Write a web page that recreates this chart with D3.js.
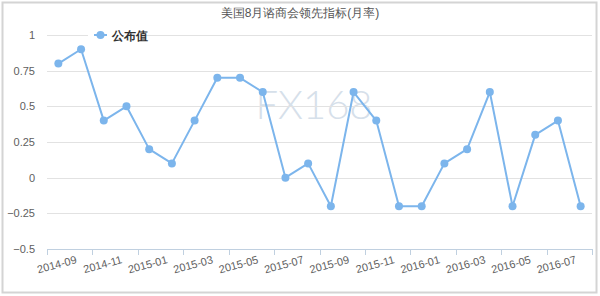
<!DOCTYPE html>
<html>
<head>
<meta charset="utf-8">
<script src="https://cdn.jsdelivr.net/npm/d3@7"></script>
<style>
  body { margin: 0; background: #fff; }
  svg { display: block; font-family: "Liberation Sans", Arial, sans-serif; }
</style>
</head>
<body>
<div id="chart"></div>
<script>
// months shown on the category axis
const months = [
  "2014-09", "2014-10", "2014-11", "2014-12", "2015-01", "2015-02",
  "2015-03", "2015-04", "2015-05", "2015-06", "2015-07", "2015-08",
  "2015-09", "2015-10", "2015-11", "2015-12", "2016-01", "2016-02",
  "2016-03", "2016-04", "2016-05", "2016-06", "2016-07", "2016-08"
];
// 公布值 (monthly rate, %)
const values = [
  0.8, 0.9, 0.4, 0.5, 0.2, 0.1,
  0.4, 0.7, 0.7, 0.6, 0, 0.1,
  -0.2, 0.6, 0.4, -0.2, -0.2, 0.1,
  0.2, 0.6, -0.2, 0.3, 0.4, -0.2
];
const yTicks = [-0.5, -0.25, 0, 0.25, 0.5, 0.75, 1];
const title = "美国8月谘商会领先指标(月率)";
const seriesName = "公布值";

const width = 600, height = 296;
const plotLeft = 47, plotRight = 592, plotTop = 35, plotBottom = 249;
const lineColor = "#7cb5ec";

const svg = d3.select("#chart").append("svg")
  .attr("width", width)
  .attr("height", height);

// outer frame
svg.append("rect")
  .attr("x", 2.5).attr("y", 2.5)
  .attr("width", 594).attr("height", 290)
  .attr("fill", "#fff")
  .attr("stroke", "#d4d4d4")
  .attr("stroke-width", 2);

const x = d3.scaleBand()
  .domain(months)
  .range([plotLeft, plotRight])
  .padding(0);

const y = d3.scaleLinear()
  .domain([-0.5, 1])
  .range([plotBottom, plotTop]);

// watermark
svg.append("text")
  .attr("x", 314).attr("y", 119)
  .attr("text-anchor", "middle")
  .attr("font-family", "Lato, sans-serif")
  .attr("font-weight", 300)
  .attr("font-size", 40)
  .attr("fill", "#d6e0ea")
  .text("FX168");

// grid lines
svg.append("g")
  .selectAll("line")
  .data(yTicks.filter(d => d !== -0.5))
  .enter()
  .append("line")
  .attr("x1", plotLeft).attr("x2", plotRight)
  .attr("y1", d => Math.round(y(d)) + 0.5)
  .attr("y2", d => Math.round(y(d)) + 0.5)
  .attr("stroke", "#e2e2e2")
  .attr("stroke-width", 1);

// y axis labels
svg.append("g")
  .selectAll("text")
  .data(yTicks)
  .enter()
  .append("text")
  .attr("x", 35)
  .attr("y", d => y(d) + 4)
  .attr("text-anchor", "end")
  .attr("font-size", 11)
  .attr("fill", "#606060")
  .text(d => d3.format("")(d));

// x axis line and ticks
const xAxis = svg.append("g");
xAxis.append("line")
  .attr("x1", plotLeft).attr("x2", plotRight)
  .attr("y1", plotBottom + 0.5).attr("y2", plotBottom + 0.5)
  .attr("stroke", "#c0d0e0");

const tickPos = months.filter((m, i) => i % 2 === 0).map(m => x(m)).concat([plotRight]);
xAxis.selectAll("line.tick")
  .data(tickPos)
  .enter()
  .append("line")
  .attr("class", "tick")
  .attr("x1", d => Math.round(d) + 0.5).attr("x2", d => Math.round(d) + 0.5)
  .attr("y1", plotBottom).attr("y2", plotBottom + 6)
  .attr("stroke", "#c0d0e0");

xAxis.selectAll("text")
  .data(months.filter((m, i) => i % 2 === 0))
  .enter()
  .append("text")
  .attr("text-anchor", "end")
  .attr("font-size", 11)
  .attr("fill", "#606060")
  .attr("transform", d => {
    const cx = x(d) + x.bandwidth() / 2 + 19;
    return "translate(" + cx + ",263) rotate(-15)";
  })
  .text(d => d);

// title
svg.append("text")
  .attr("x", 300).attr("y", 17)
  .attr("text-anchor", "middle")
  .attr("font-size", 12)
  .attr("fill", "#555")
  .text(title);

// legend (sits over the top grid line)
const legend = svg.append("g");
legend.append("rect")
  .attr("x", 88).attr("y", 27)
  .attr("width", 58).attr("height", 16)
  .attr("fill", "#fff");
legend.append("line")
  .attr("x1", 94).attr("x2", 107)
  .attr("y1", 35).attr("y2", 35)
  .attr("stroke", lineColor).attr("stroke-width", 2);
legend.append("circle")
  .attr("cx", 100.5).attr("cy", 35).attr("r", 4)
  .attr("fill", lineColor);
legend.append("text")
  .attr("x", 112).attr("y", 39.5)
  .attr("font-size", 12)
  .attr("font-weight", "bold")
  .attr("fill", "#333")
  .text(seriesName);

// series
const points = months.map((m, i) => ({ month: m, value: values[i] }));
const line = d3.line()
  .x(d => x(d.month) + x.bandwidth() / 2)
  .y(d => y(d.value));

svg.append("path")
  .datum(points)
  .attr("d", line)
  .attr("fill", "none")
  .attr("stroke", lineColor)
  .attr("stroke-width", 2)
  .attr("stroke-linejoin", "round");

svg.selectAll("circle.pt")
  .data(points)
  .enter()
  .append("circle")
  .attr("class", "pt")
  .attr("cx", d => x(d.month) + x.bandwidth() / 2)
  .attr("cy", d => y(d.value))
  .attr("r", 4)
  .attr("fill", lineColor);
</script>
</body>
</html>
